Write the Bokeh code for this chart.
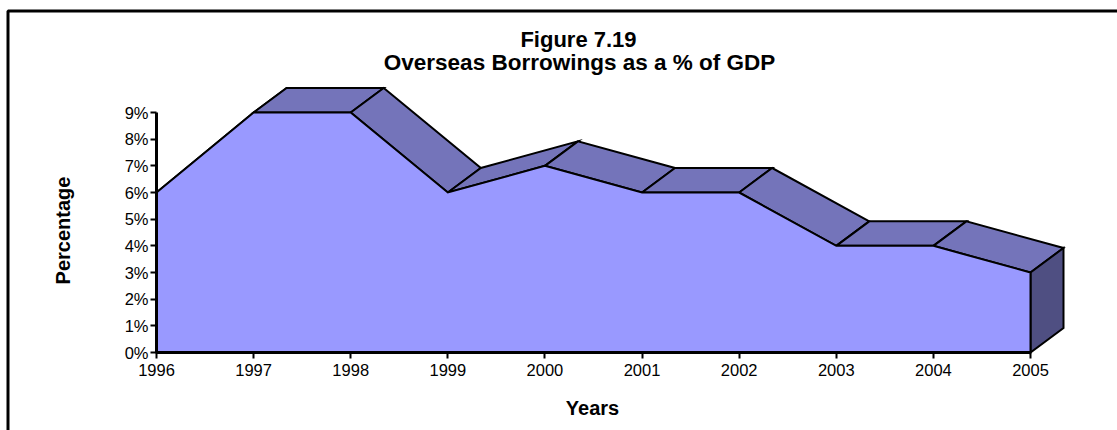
from bokeh.plotting import figure
from bokeh.models import Range1d, FixedTicker, Label, PolyAnnotation, LinearAxis
from bokeh.embed import file_html
from bokeh.resources import INLINE

# Overseas borrowings, % of GDP, by year
years = [1996, 1997, 1998, 1999, 2000, 2001, 2002, 2003, 2004, 2005]
borrowing_pct = [6, 9, 9, 6, 7, 6, 6, 4, 4, 3]

y_ticks = [0, 1, 2, 3, 4, 5, 6, 7, 8, 9]
y_tick_labels = ["0%", "1%", "2%", "3%", "4%", "5%", "6%", "7%", "8%", "9%"]
x_tick_labels = ["1996", "1997", "1998", "1999", "2000", "2001", "2002", "2003", "2004", "2005"]

title_lines = ["Figure 7.19", "Overseas Borrowings as a % of GDP"]
x_title = "Years"
y_title = "Percentage"

# ---- canvas geometry (pixels) ----
W, H = 1117, 430
LEFT, BOTTOM_PX = 156, 352          # screen position of (1996, 0%)
RIGHT_PX, TOP_PX = 1030, 112        # screen position of (2005, 9%)
SX = (RIGHT_PX - LEFT) / (years[-1] - years[0])   # px per year
SY = (BOTTOM_PX - TOP_PX) / 9.0                   # px per percent

x0 = years[0]


def px_x(px):
    return x0 + (px - LEFT) / SX


def px_y(py):
    return (BOTTOM_PX - py) / SY


# depth of the 3D ribbon, in data units
DX = 33 / SX
DY = 24.5 / SY

FRONT = "#9999FF"
TOP = "#7474BA"
SIDE = "#4F4F82"
FONT = "Liberation Sans"

# the plot frame covers the whole canvas; axes sit at fixed data locations
p = figure(width=W, height=H, output_backend="svg", toolbar_location=None,
           x_range=Range1d(px_x(0), px_x(W)), y_range=Range1d(px_y(H), px_y(0)),
           x_axis_location=None, y_axis_location=None,
           min_border=0)
p.xgrid.visible = False
p.ygrid.visible = False
p.outline_line_color = None
p.background_fill_color = "white"
p.border_fill_color = "white"

# top faces of the ribbon, one per segment
top_xs, top_ys = [], []
for i in range(len(years) - 1):
    xa, xb = years[i], years[i + 1]
    ya, yb = borrowing_pct[i], borrowing_pct[i + 1]
    top_xs.append([xa, xb, xb + DX, xa + DX])
    top_ys.append([ya, yb, yb + DY, ya + DY])
p.patches(top_xs, top_ys, fill_color=TOP, line_color="black", line_width=2,
          line_join="miter")

# right end face
xl, yl = years[-1], borrowing_pct[-1]
p.patch([xl, xl, xl + DX, xl + DX], [0, yl, yl + DY, DY],
        fill_color=SIDE, line_color="black", line_width=2, line_join="miter")

# front face
p.patch(years + [years[-1], years[0]], borrowing_pct + [0, 0],
        fill_color=FRONT, line_color="black", line_width=2, line_join="miter")

# axes
yax = LinearAxis(fixed_location=years[0], bounds=(0, 9),
                 ticker=FixedTicker(ticks=y_ticks),
                 major_label_overrides={t: s for t, s in zip(y_ticks, y_tick_labels)},
                 major_label_standoff=2)
xax = LinearAxis(fixed_location=0, bounds=(years[0], years[-1]),
                 ticker=FixedTicker(ticks=years),
                 major_label_overrides={t: s for t, s in zip(years, x_tick_labels)},
                 major_label_standoff=5)
for ax in (xax, yax):
    ax.axis_line_width = 3
    ax.axis_line_color = "black"
    ax.major_tick_line_width = 2
    ax.major_tick_line_color = "black"
    ax.major_tick_in = 0
    ax.major_tick_out = 6
    ax.minor_tick_line_color = None
    ax.major_label_text_font = FONT
    ax.major_label_text_font_size = "16.5px"
    ax.major_label_text_color = "black"
p.add_layout(yax, "left")
p.add_layout(xax, "below")

# titles
p.add_layout(Label(x=px_x(578), y=px_y(39), text=title_lines[0],
                   text_align="center", text_baseline="middle",
                   text_font=FONT, text_font_style="bold",
                   text_font_size="22px", text_color="black"))
p.add_layout(Label(x=px_x(579), y=px_y(62), text=title_lines[1],
                   text_align="center", text_baseline="middle",
                   text_font=FONT, text_font_style="bold",
                   text_font_size="22.5px", text_color="black"))
p.add_layout(Label(x=px_x(592), y=px_y(407), text=x_title,
                   text_align="center", text_baseline="middle",
                   text_font=FONT, text_font_style="bold",
                   text_font_size="20px", text_color="black"))
p.add_layout(Label(x=px_x(62), y=px_y(230), text=y_title, angle=90,
                   angle_units="deg", text_align="center", text_baseline="middle",
                   text_font=FONT, text_font_style="bold",
                   text_font_size="20px", text_color="black"))

# chart border (top and left edges in view)
p.add_layout(PolyAnnotation(xs=[px_x(7.5), px_x(1140), px_x(1140), px_x(7.5)],
                            ys=[px_y(10.5), px_y(10.5), px_y(460), px_y(460)],
                            fill_alpha=0, line_color="black", line_alpha=1,
                            line_width=3))

open("out.html", "w").write(file_html(p, INLINE))
